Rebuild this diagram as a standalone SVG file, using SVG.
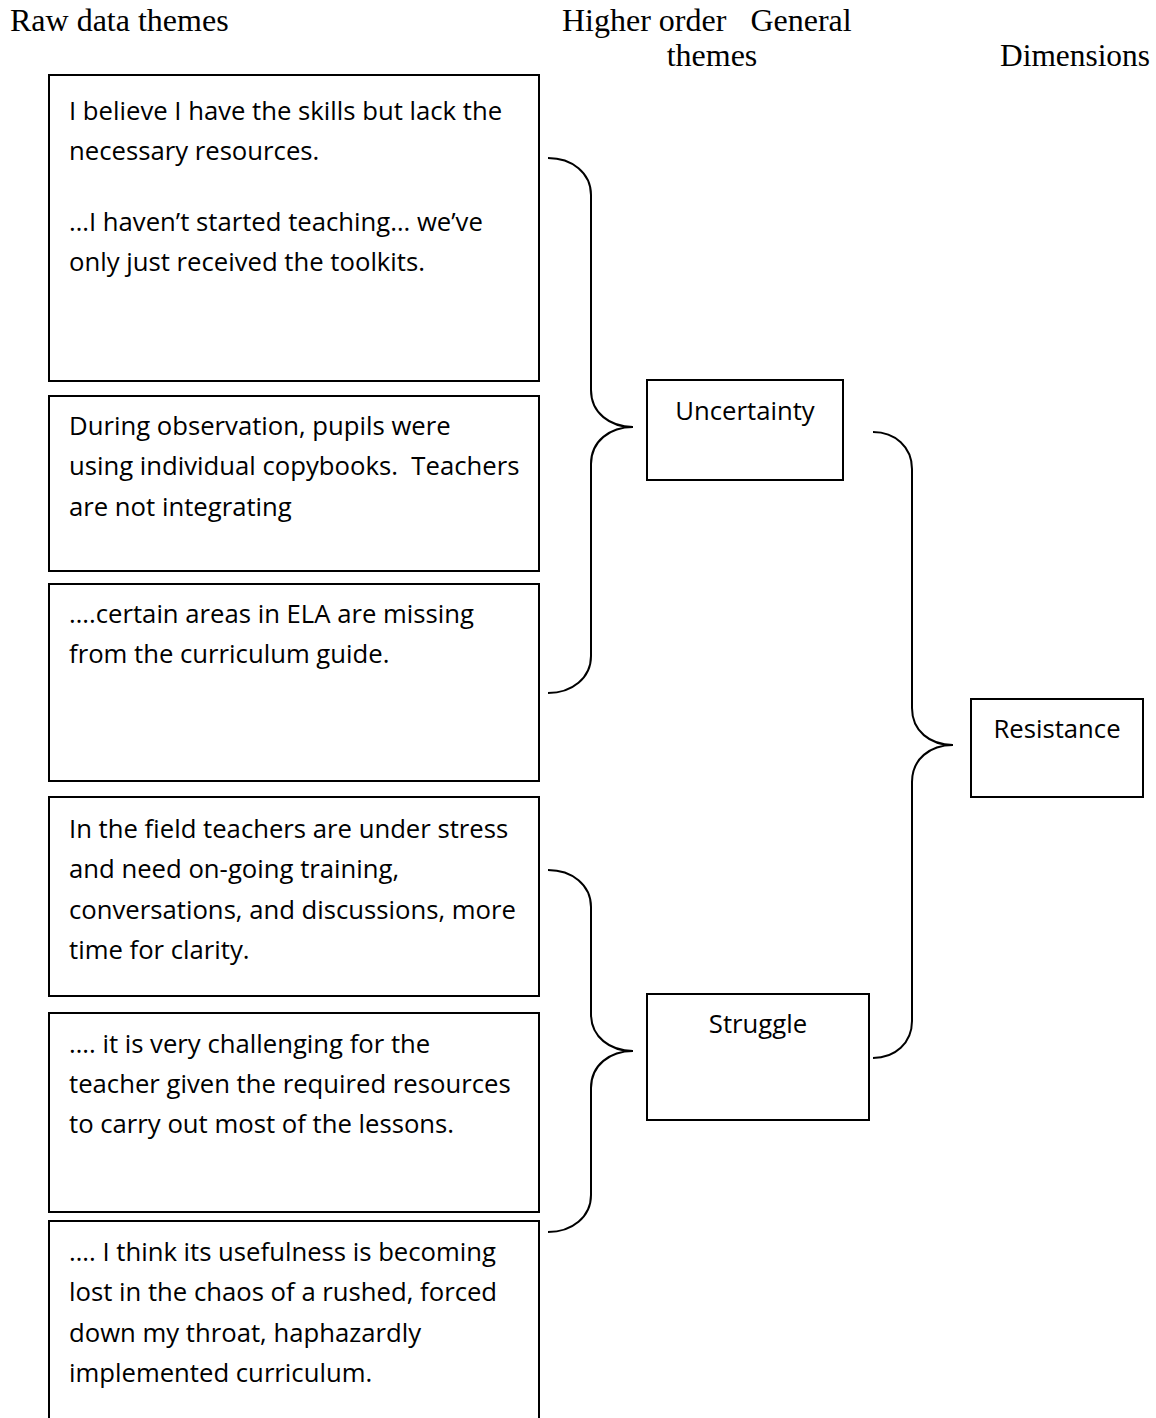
<svg xmlns="http://www.w3.org/2000/svg" width="1156" height="1418" viewBox="0 0 1156 1418">
<style>
.bg{fill:#fff}
.hdr{font-family:"Liberation Serif","Times New Roman",serif;font-size:32px;fill:#000}
.box{fill:#fff;stroke:#000;stroke-width:2}
.txt{font-family:"Open Sans","Noto Sans",sans-serif;font-size:25.7px;fill:#000}
.lbl{font-family:"Open Sans","Noto Sans",sans-serif;font-size:25.7px;fill:#000;text-anchor:middle}
.brace{fill:none;stroke:#000;stroke-width:2}
</style>
<rect class="bg" x="0" y="0" width="1156" height="1418"/>
<g id="headers">
<text class="hdr" x="10" y="31">Raw data themes</text>
<text class="hdr" x="562" y="31" xml:space="preserve">Higher order   General</text>
<text class="hdr" x="712" y="66" text-anchor="middle">themes</text>
<text class="hdr" x="1000" y="66" style="font-size:31.4px">Dimensions</text>
</g>
<g id="raw1">
<rect class="box" x="49" y="75" width="490" height="306"/>
<text class="txt" x="69" y="120">I believe I have the skills but lack the</text>
<text class="txt" x="69" y="160">necessary resources.</text>
<text class="txt" x="69" y="231">…I haven’t started teaching… we’ve</text>
<text class="txt" x="69" y="271">only just received the toolkits.</text>
</g>
<g id="raw2">
<rect class="box" x="49" y="396" width="490" height="175"/>
<text class="txt" x="69" y="435">During observation, pupils were</text>
<text class="txt" x="69" y="475" xml:space="preserve">using individual copybooks.  Teachers</text>
<text class="txt" x="69" y="516">are not integrating</text>
</g>
<g id="raw3">
<rect class="box" x="49" y="584" width="490" height="197"/>
<text class="txt" x="69" y="623">….certain areas in ELA are missing</text>
<text class="txt" x="69" y="663">from the curriculum guide.</text>
</g>
<g id="raw4">
<rect class="box" x="49" y="797" width="490" height="199"/>
<text class="txt" x="69" y="838">In the field teachers are under stress</text>
<text class="txt" x="69" y="878">and need on-going training,</text>
<text class="txt" x="69" y="919">conversations, and discussions, more</text>
<text class="txt" x="69" y="959">time for clarity.</text>
</g>
<g id="raw5">
<rect class="box" x="49" y="1013" width="490" height="199"/>
<text class="txt" x="69" y="1053">…. it is very challenging for the</text>
<text class="txt" x="69" y="1093">teacher given the required resources</text>
<text class="txt" x="69" y="1133">to carry out most of the lessons.</text>
</g>
<g id="raw6">
<rect class="box" x="49" y="1221" width="490" height="230"/>
<text class="txt" x="69" y="1261">…. I think its usefulness is becoming</text>
<text class="txt" x="69" y="1301">lost in the chaos of a rushed, forced</text>
<text class="txt" x="69" y="1342">down my throat, haphazardly</text>
<text class="txt" x="69" y="1382">implemented curriculum.</text>
</g>
<g id="uncertainty">
<rect class="box" x="647" y="380" width="196" height="100"/>
<text class="lbl" x="745" y="420">Uncertainty</text>
</g>
<g id="struggle">
<rect class="box" x="647" y="994" width="222" height="126"/>
<text class="lbl" x="758" y="1033">Struggle</text>
</g>
<g id="resistance">
<rect class="box" x="971" y="699" width="172" height="98"/>
<text class="lbl" x="1057" y="738">Resistance</text>
</g>
<g id="connectors">
<path class="brace" d="M548,158 C572,158 591,173 591,195 L591,390 C591,413 610,427 633,427 C610,427 591,441 591,464 L591,656 C591,678 572,693 548,693"/>
<path class="brace" d="M548,870 C572,870 591,885 591,907 L591,1014 C591,1037 610,1051 633,1051 C610,1051 591,1065 591,1088 L591,1195 C591,1217 572,1232 548,1232"/>
<path class="brace" d="M873,432 C895,432 912,447 912,469 L912,708 C912,731 930,745 953,745 C930,745 912,759 912,782 L912,1021 C912,1043 895,1058 873,1058"/>
</g>
</svg>
